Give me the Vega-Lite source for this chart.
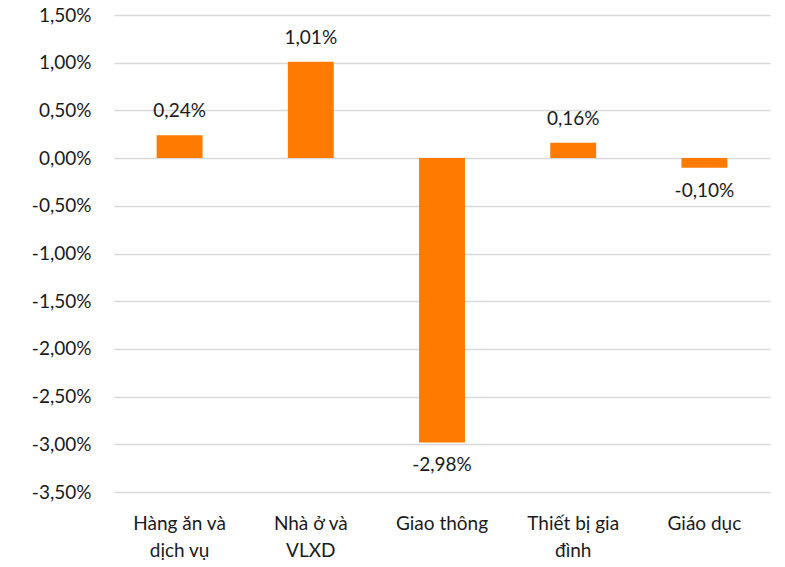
{
  "$schema": "https://vega.github.io/schema/vega-lite/v6.json",
  "width": 656,
  "height": 477,
  "autosize": "none",
  "padding": {"left": 114, "top": 15, "right": 15, "bottom": 75},
  "background": "white",
  "config": {
    "font": "Lato",
    "view": {"stroke": null},
    "locale": {
      "number": {"decimal": ",", "thousands": ".", "grouping": [3], "currency": ["", " ₫"], "minus": "-", "percent": "%"}
    }
  },
  "data": {
    "values": [
      {"cat": "Hàng ăn và|dịch vụ", "value": 0.0024},
      {"cat": "Nhà ở và|VLXD", "value": 0.0101},
      {"cat": "Giao thông", "value": -0.0298},
      {"cat": "Thiết bị gia|đình", "value": 0.0016},
      {"cat": "Giáo dục", "value": -0.0010}
    ]
  },
  "encoding": {
    "x": {
      "field": "cat", "type": "nominal", "sort": null,
      "scale": {"paddingInner": 0.65, "paddingOuter": 0.325},
      "axis": {
        "title": null, "orient": "bottom", "labelAngle": 0, "domain": false, "ticks": false,
        "labelExpr": "split(datum.label, '|')",
        "labelFont": "Lato", "labelFontSize": 19, "labelColor": "#1a1a1a",
        "labelPadding": 22, "labelLineHeight": 27, "labelBaseline": "top"
      }
    },
    "y": {
      "field": "value", "type": "quantitative",
      "scale": {"domain": [-0.035, 0.015], "nice": false, "zero": false},
      "axis": {
        "title": null, "domain": false, "ticks": false,
        "values": [-0.035, -0.03, -0.025, -0.02, -0.015, -0.01, -0.005, 0, 0.005, 0.01, 0.015],
        "format": ".2%",
        "labelFont": "Lato", "labelFontSize": 19, "labelColor": "#1a1a1a",
        "labelPadding": 23,
        "gridColor": "#D9D9D9", "gridWidth": 1.5
      }
    }
  },
  "layer": [
    {"mark": {"type": "bar", "color": "#FF7B00"}},
    {
      "transform": [{"filter": "datum.value >= 0"}],
      "mark": {"type": "text", "baseline": "bottom", "dy": -14, "fontSize": 19, "font": "Lato", "color": "#1a1a1a"},
      "encoding": {"text": {"field": "value", "type": "quantitative", "format": ".2%"}}
    },
    {
      "transform": [{"filter": "datum.value < 0"}],
      "mark": {"type": "text", "baseline": "top", "dy": 14, "fontSize": 19, "font": "Lato", "color": "#1a1a1a"},
      "encoding": {"text": {"field": "value", "type": "quantitative", "format": ".2%"}}
    }
  ]
}
